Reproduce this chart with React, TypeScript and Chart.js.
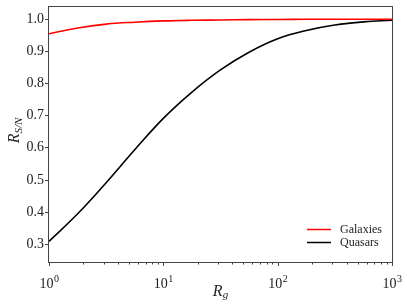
import React, { useEffect, useRef } from 'react';
import { Chart, registerables } from 'chart.js';

Chart.register(...registerables);

// R_g sample positions (log axis, quarter-decade steps)
const rgValues = [1, 1.78, 3.16, 5.62, 10, 17.8, 31.6, 56.2, 100, 178, 316, 562, 1000];
// R_S/N for galaxies
const galaxyValues = [0.955, 0.973, 0.985, 0.991, 0.995, 0.997, 0.998, 0.999, 0.9995, 1.0, 1.0, 1.0, 1.0];
// R_S/N for quasars
const quasarValues = [0.307, 0.393, 0.49, 0.593, 0.691, 0.773, 0.842, 0.897, 0.939, 0.965, 0.982, 0.992, 0.997];

const seriesLabels = ['Galaxies', 'Quasars'];
const seriesColors = ['#ff0000', '#000000'];

const yTickValues = [0.3, 0.4, 0.5, 0.6, 0.7, 0.8, 0.9, 1.0];
const yTickLabels = ['0.3', '0.4', '0.5', '0.6', '0.7', '0.8', '0.9', '1.0'];
const xTickValues = [1, 10, 100, 1000];
const xTickBase = '10';
const xTickExponents = ['0', '1', '2', '3'];

const Y_MIN = 0.2426;
const Y_MAX = 1.0384;

const SERIF = '"Liberation Serif", "DejaVu Serif", serif';

const overlayPlugin = {
  id: 'overlay',
  afterDraw(chart: any) {
    const { ctx, chartArea: a, scales } = chart;
    const xs = scales.x;
    const ys = scales.y;
    ctx.save();
    // frame
    ctx.strokeStyle = '#444';
    ctx.lineWidth = 1;
    ctx.strokeRect(a.left - 0.5, a.top - 0.5, a.right - a.left + 1, a.bottom - a.top + 1);

    // y ticks + labels
    ctx.fillStyle = '#222';
    ctx.font = `14px ${SERIF}`;
    ctx.textAlign = 'right';
    ctx.textBaseline = 'middle';
    yTickValues.forEach((v, i) => {
      const y = Math.round(ys.getPixelForValue(v)) + 0.5;
      ctx.beginPath();
      ctx.moveTo(a.left - 4, y);
      ctx.lineTo(a.left, y);
      ctx.stroke();
      ctx.fillText(yTickLabels[i], a.left - 5, y);
    });

    // x ticks (major + minor)
    for (let d = 0; d < xTickValues.length; d++) {
      const base = xTickValues[d];
      const xp = Math.round(xs.getPixelForValue(base)) + 0.5;
      ctx.beginPath();
      ctx.moveTo(xp, a.bottom);
      ctx.lineTo(xp, a.bottom + 4);
      ctx.stroke();
      if (d < xTickValues.length - 1) {
        for (let m = 2; m <= 9; m++) {
          const mx = Math.round(xs.getPixelForValue(base * m)) + 0.5;
          ctx.beginPath();
          ctx.moveTo(mx, a.bottom);
          ctx.lineTo(mx, a.bottom + 2.5);
          ctx.stroke();
        }
      }
    }
    // x tick labels with superscripts
    ctx.textAlign = 'left';
    ctx.textBaseline = 'alphabetic';
    xTickValues.forEach((v, i) => {
      const xp = xs.getPixelForValue(v);
      ctx.font = `14px ${SERIF}`;
      const wb = ctx.measureText(xTickBase).width;
      ctx.font = `10px ${SERIF}`;
      const we = ctx.measureText(xTickExponents[i]).width;
      const start = xp - (wb + we) / 2;
      ctx.font = `14px ${SERIF}`;
      ctx.fillText(xTickBase, start, 288);
      ctx.font = `10px ${SERIF}`;
      ctx.fillText(xTickExponents[i], start + wb + 0.5, 282);
    });

    // x axis title: R_g
    ctx.fillStyle = '#222';
    ctx.font = `italic 16px ${SERIF}`;
    const wR = ctx.measureText('R').width;
    ctx.font = `italic 11px ${SERIF}`;
    const wg = ctx.measureText('g').width;
    const cx = (a.left + a.right) / 2;
    const sx = cx - (wR + wg) / 2;
    ctx.font = `italic 16px ${SERIF}`;
    ctx.fillText('R', sx, 296);
    ctx.font = `italic 11px ${SERIF}`;
    ctx.fillText('g', sx + wR, 298);

    // y axis title: R_{S/N}
    ctx.save();
    ctx.translate(19, (a.top + a.bottom) / 2 - 4);
    ctx.rotate(-Math.PI / 2);
    ctx.font = `italic 16px ${SERIF}`;
    const wR2 = ctx.measureText('R').width;
    ctx.font = `italic 11px ${SERIF}`;
    const wsn = ctx.measureText('S/N').width;
    const s2 = -(wR2 + wsn) / 2;
    ctx.font = `italic 16px ${SERIF}`;
    ctx.fillText('R', s2, 0);
    ctx.font = `italic 11px ${SERIF}`;
    ctx.fillText('S/N', s2 + wR2, 3);
    ctx.restore();

    // legend (lower right, inside)
    const legendY = [229.5, 242.5];
    ctx.font = `12px ${SERIF}`;
    ctx.textBaseline = 'middle';
    seriesLabels.forEach((lab, i) => {
      ctx.strokeStyle = seriesColors[i];
      ctx.lineWidth = 1.5;
      ctx.beginPath();
      ctx.moveTo(307, legendY[i]);
      ctx.lineTo(331, legendY[i]);
      ctx.stroke();
      ctx.fillStyle = '#222';
      ctx.fillText(lab, 340, legendY[i]);
    });
    ctx.restore();
  },
};

export default function App() {
  const canvasRef = useRef<HTMLCanvasElement | null>(null);

  useEffect(() => {
    const canvas = canvasRef.current;
    if (!canvas) return;
    const mk = (vals: number[]) => rgValues.map((x, i) => ({ x, y: vals[i] }));
    const chart = new Chart(canvas, {
      type: 'line',
      data: {
        datasets: [
          {
            label: seriesLabels[0],
            data: mk(galaxyValues),
            borderColor: seriesColors[0],
            borderWidth: 1.6,
            pointRadius: 0,
            tension: 0.4,
            fill: false,
          },
          {
            label: seriesLabels[1],
            data: mk(quasarValues),
            borderColor: seriesColors[1],
            borderWidth: 1.6,
            pointRadius: 0,
            tension: 0.4,
            fill: false,
          },
        ],
      },
      options: {
        responsive: false,
        animation: false,
        devicePixelRatio: 1,
        layout: { padding: { left: 0, right: 15, top: 7, bottom: 0 }, autoPadding: false },
        plugins: { legend: { display: false }, tooltip: { enabled: false } },
        scales: {
          x: {
            type: 'logarithmic',
            min: 1,
            max: 1000,
            grid: { display: false },
            border: { display: false },
            ticks: { display: false },
            afterFit: (s: any) => { s.height = 44; },
          },
          y: {
            type: 'linear',
            min: Y_MIN,
            max: Y_MAX,
            grid: { display: false },
            border: { display: false },
            ticks: { display: false },
            afterFit: (s: any) => { s.width = 49; },
          },
        },
      },
      plugins: [overlayPlugin],
    } as any);
    return () => chart.destroy();
  }, []);

  return (
    <div style={{ position: 'absolute', left: 0, top: 0, width: 407, height: 306, background: '#fff' }}>
      <canvas ref={canvasRef} width={407} height={306} style={{ width: 407, height: 306, display: 'block' }} />
    </div>
  );
}
